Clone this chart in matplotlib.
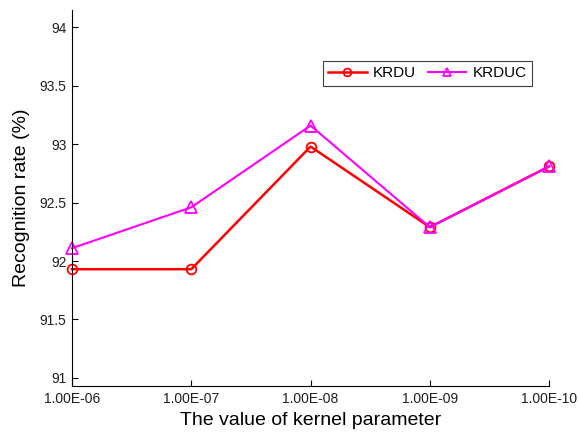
import numpy as np
import matplotlib.pyplot as plt

plt.rcParams['font.family'] = ['Liberation Sans', 'DejaVu Sans']

# kernel parameter values (categories)
kernel_labels = ["1.00E-06", "1.00E-07", "1.00E-08", "1.00E-09", "1.00E-10"]
# recognition rate (%)
krdu = [91.93, 91.93, 92.98, 92.29, 92.81]
krduc = [92.11, 92.46, 93.16, 92.29, 92.81]

x = np.arange(1, len(kernel_labels) + 1)

fig = plt.figure(figsize=(5.78, 4.32), dpi=100)
ax = fig.add_axes([0.1246, 0.1065, 0.8254, 0.8705])

ax.plot(x, krdu, color="red", marker="o", markerfacecolor="none",
        markersize=7, linewidth=1.8, markeredgewidth=1.3, label="KRDU", clip_on=False)
ax.plot(x, krduc, color="magenta", marker="^", markerfacecolor="none",
        markersize=8, linewidth=1.5, markeredgewidth=1.3, label="KRDUC", clip_on=False)

ax.set_xlim(1, 5)
ax.set_ylim(90.93, 94.15)
ax.set_xticks(x)
ax.set_xticklabels(kernel_labels)
ax.set_yticks(np.arange(91, 94.01, 0.5))
ax.set_yticklabels(["91", "91.5", "92", "92.5", "93", "93.5", "94"])

for s in ["top", "right"]:
    ax.spines[s].set_visible(False)
ax.tick_params(direction="in", length=4, labelsize=10, pad=4, labelcolor="#202020")

ax.set_xlabel("The value of kernel parameter", fontsize=14, labelpad=5)
ax.set_ylabel("Recognition rate (%)", fontsize=14, labelpad=7)

leg = ax.legend(loc="upper left", bbox_to_anchor=(0.51, 0.885), ncol=2, fontsize=11,
                fancybox=False, framealpha=1, edgecolor="#404040", handlelength=2.5,
                columnspacing=0.8, handletextpad=0.4, borderpad=0.35, markerscale=0.8)
leg.get_frame().set_linewidth(0.8)

fig.savefig("out.png", dpi=100)
